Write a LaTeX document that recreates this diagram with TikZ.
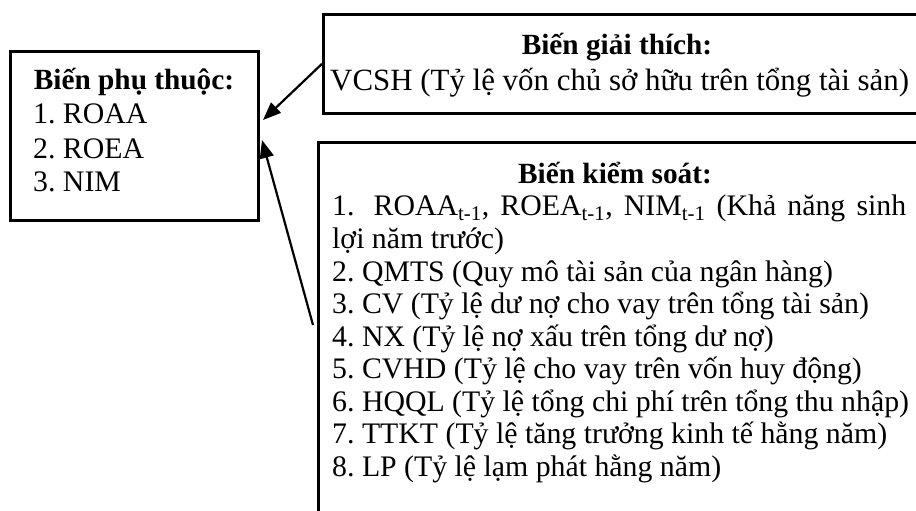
\documentclass[tikz,border=0pt]{standalone}
\usepackage{fontspec}
\setmainfont{Liberation Serif}
\usetikzlibrary{arrows.meta}
\frenchspacing
\begin{document}
\begin{tikzpicture}[x=1pt,y=-1pt,
  boxstyle/.style={draw=black,line width=2.6pt,inner sep=0pt,anchor=north west},
  txt/.style={inner sep=0pt,anchor=base west,font=\fontsize{29.8}{32.5}\selectfont},
  bigtxt/.style={txt,font=\fontsize{30.9}{32.5}\selectfont},
  ttl/.style={inner sep=0pt,anchor=base,font=\fontsize{29.3}{32.5}\selectfont\bfseries},
  arr/.style={line width=2.2pt,-{Triangle[length=18pt,width=14pt]}}]
\useasboundingbox (0,0) rectangle (916,511);
% boxes
\node[boxstyle,minimum width=248pt,minimum height=169pt] (dep) at (9,50) {};
\node[boxstyle,minimum width=620pt,minimum height=99pt] (expl) at (322,13) {};
\node[boxstyle,minimum width=620pt,minimum height=400pt] (ctrl) at (317,141) {};
% dependent variables
\node[ttl] (depT) at (134,89) {Biến phụ thuộc:};
\node[txt] (dep1) at (33,124) {1. ROAA};
\node[txt] (dep2) at (33,158) {2. ROEA};
\node[txt] (dep3) at (33,191) {3. NIM};
% explanatory
\node[ttl] (explT) at (617,55) {Biến giải thích:};
\node[bigtxt] (expl1) at (330,90) {VCSH (Tỷ lệ vốn chủ sở hữu trên tổng tài sản)};
% control
\node[ttl] (ctrlT) at (615,183) {Biến kiểm soát:};
\node[txt] (c1) at (332,215) {\makebox[574pt][s]{1.\hspace{8pt} ROAA\textsubscript{t-1}, ROEA\textsubscript{t-1}, NIM\textsubscript{t-1} (Khả năng sinh}};
\node[txt] (c1b) at (332,248) {lợi năm trước)};
\node[txt] (c2) at (332,281) {2. QMTS (Quy mô tài sản của ngân hàng)};
\node[txt] (c3) at (332,313) {3. CV (Tỷ lệ dư nợ cho vay trên tổng tài sản)};
\node[txt] (c4) at (332,346) {4. NX (Tỷ lệ nợ xấu trên tổng dư nợ)};
\node[txt] (c5) at (332,378) {5. CVHD (Tỷ lệ cho vay trên vốn huy động)};
\node[txt] (c6) at (332,411) {6. HQQL (Tỷ lệ tổng chi phí trên tổng thu nhập)};
\node[txt] (c7) at (332,443) {7. TTKT (Tỷ lệ tăng trưởng kinh tế hằng năm)};
\node[txt] (c8) at (332,476) {8. LP (Tỷ lệ lạm phát hằng năm)};
% arrows
\coordinate (t1) at (263,120);
\coordinate (t2) at (262,140);
\coordinate (s2) at (313,325);
\draw[arr] (expl.west) -- (t1);
\draw[arr] (s2) -- (t2);
\end{tikzpicture}
\end{document}
